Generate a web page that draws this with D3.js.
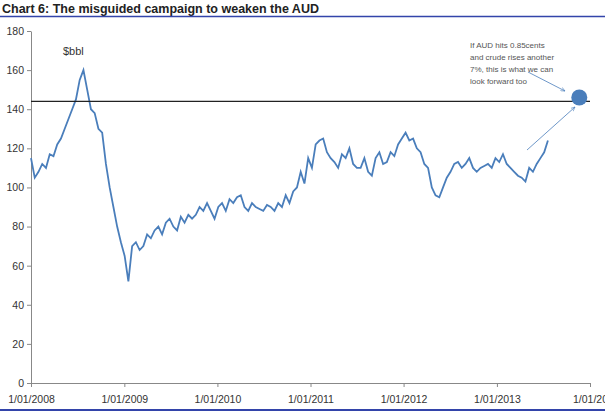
<!DOCTYPE html><html><head><meta charset="utf-8">
<script src="https://cdn.jsdelivr.net/npm/d3@7"></script>
<style>body{margin:0;background:#fff}text{font-family:"Liberation Sans",Arial,sans-serif}</style></head><body>
<svg id="c" width="605" height="415"></svg>
<script>
const startDate = "2008-01-01";
const endDate = "2013-07-20";
// semi-monthly crude oil price ($bbl)
const prices = [115,105,108,112,110,117,116,122,125,130,135,140,145,155,160,150,140,138,130,128,112,100,90,80,72,65,52,70,72,68,70,76,74,78,80,76,82,84,80,78,85,82,86,84,86,90,88,92,88,84,90,92,88,94,92,95,96,90,88,92,90,89,88,91,90,88,92,90,96,92,98,100,108,102,115,110,122,124,125,118,115,113,110,117,115,120,112,110,110,115,108,106,115,118,112,113,118,116,122,125,128,124,125,120,118,112,110,100,96,95,100,105,108,112,113,110,112,115,110,108,110,111,112,110,115,113,117,112,110,108,106,105,103,110,108,112,115,118,124];
const yTicks = [0,20,40,60,80,100,120,140,160,180];
const xTickLabels = ["1/01/2008","1/01/2009","1/01/2010","1/01/2011","1/01/2012","1/01/2013","1/01/20"];
const refLevel = 144;
const target = {date:"2013-11-20", value:146};
const noteLines = ["If AUD hits 0.85cents","and crude rises another","7%, this is what we can","look forward too"];

const svg = d3.select("#c");
const x = d3.scaleTime().domain([new Date(2008,0,1), new Date(2014,0,1)]).range([31,590]);
const y = d3.scaleLinear().domain([0,180]).range([383,31]);
const t0 = new Date(startDate), t1 = new Date(endDate);
const dt = (t1-t0)/(prices.length-1);
const data = prices.map((v,i)=>({d:new Date(+t0 + i*dt), v}));

svg.append("text").attr("x",2).attr("y",13).attr("font-size",12.5).attr("font-weight","bold").attr("fill","#222").text("Chart 6: The misguided campaign to weaken the AUD");
svg.append("line").attr("x1",0).attr("x2",605).attr("y1",16.5).attr("y2",16.5).attr("stroke","#3344aa").attr("stroke-width",1.5);
svg.append("line").attr("x1",0).attr("x2",605).attr("y1",410).attr("y2",410).attr("stroke","#3344aa").attr("stroke-width",2);

const ya = svg.append("g").attr("transform","translate(31,0)").call(d3.axisLeft(y).tickValues(yTicks).tickSize(4).tickSizeOuter(0));
const xa = svg.append("g").attr("transform","translate(0,383)").call(d3.axisBottom(x).ticks(d3.timeYear.every(1)).tickFormat((d,i)=>xTickLabels[i]).tickSize(4).tickSizeOuter(0));
[ya,xa].forEach(a=>{a.selectAll("path,line").attr("stroke","#888");a.selectAll("text").attr("font-size",10.5).attr("fill","#333");});
xa.selectAll("text").attr("dy","1.2em");

svg.append("text").attr("x",63).attr("y",55).attr("font-size",11).attr("fill","#333").text("$bbl");
svg.append("path").datum(data).attr("fill","none").attr("stroke","#4a7ebb").attr("stroke-width",1.8)
  .attr("d",d3.line().x(d=>x(d.d)).y(d=>y(d.v)));
svg.append("line").attr("x1",31).attr("x2",590).attr("y1",y(refLevel)).attr("y2",y(refLevel)).attr("stroke","#222").attr("stroke-width",1.2);
svg.append("circle").attr("cx",x(new Date(target.date))).attr("cy",y(target.value)).attr("r",8).attr("fill","#4a7ebb");
noteLines.forEach((l,i)=>svg.append("text").attr("x",470).attr("y",48+i*12).attr("font-size",8).attr("fill","#555").text(l));
const defs=svg.append("defs");
defs.append("marker").attr("id","ar").attr("viewBox","0 0 10 10").attr("refX",9).attr("refY",5).attr("markerWidth",6).attr("markerHeight",6).attr("orient","auto")
 .append("path").attr("d","M0,1L9,5L0,9").attr("fill","none").attr("stroke","#4a7ebb").attr("stroke-width",1.2);
svg.append("line").attr("x1",528).attr("y1",72).attr("x2",565).attr("y2",91).attr("stroke","#4a7ebb").attr("stroke-width",0.8).attr("marker-end","url(#ar)");
svg.append("line").attr("x1",527).attr("y1",150).attr("x2",575).attr("y2",107).attr("stroke","#4a7ebb").attr("stroke-width",0.8).attr("marker-end","url(#ar)");
</script></body></html>
